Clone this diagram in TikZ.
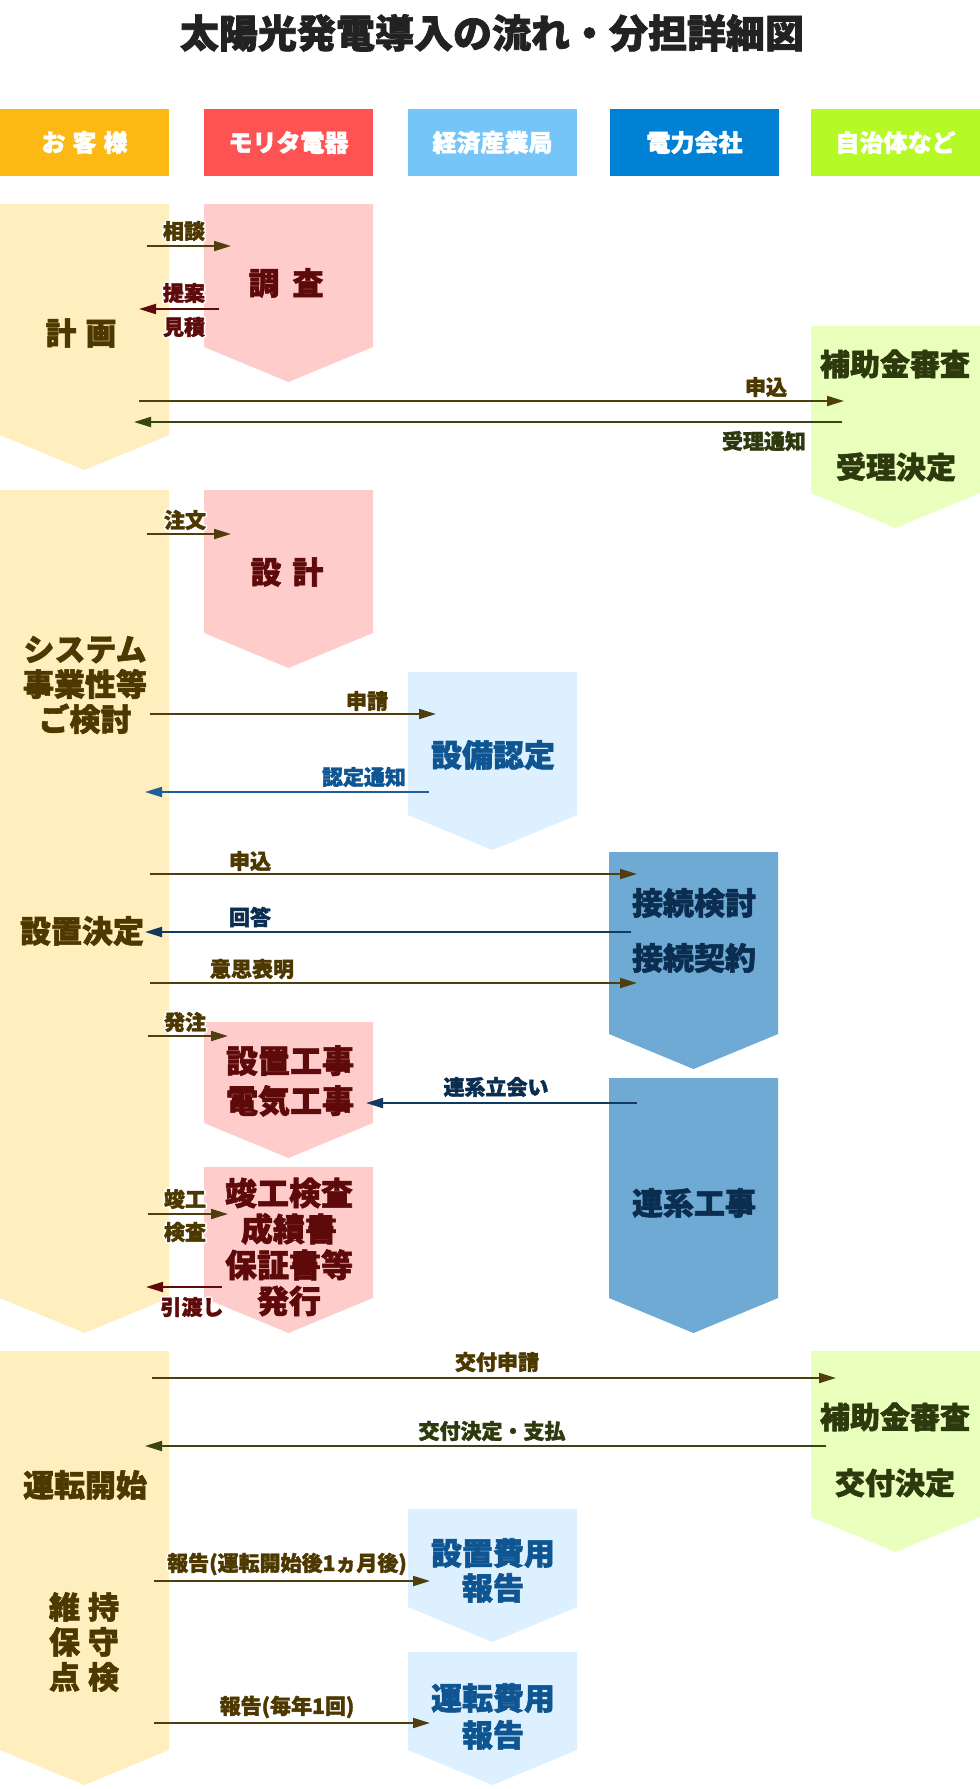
\documentclass[tikz,border=0pt]{standalone}
\usepackage{fontspec}
\setmainfont{Noto Sans CJK JP}[BoldFeatures={FakeBold=1.8}]
\usetikzlibrary{arrows.meta}
\definecolor{hCust}{HTML}{FDB913}
\definecolor{hMor}{HTML}{FF5353}
\definecolor{hMeti}{HTML}{76C5F8}
\definecolor{hPow}{HTML}{0081D3}
\definecolor{hLoc}{HTML}{B5FA26}
\definecolor{bCust}{HTML}{FFEEBE}
\definecolor{bMor}{HTML}{FFCCCC}
\definecolor{bMeti}{HTML}{DCF0FF}
\definecolor{bPow}{HTML}{6EAAD4}
\definecolor{bLoc}{HTML}{E9FFBC}
\definecolor{tCust}{HTML}{4D3800}
\definecolor{tMor}{HTML}{5E0A0A}
\definecolor{tMeti}{HTML}{0E5591}
\definecolor{tPow}{HTML}{0B2E50}
\definecolor{tLoc}{HTML}{2D3A0D}
\definecolor{aBrown}{HTML}{503F0E}
\definecolor{aRed}{HTML}{5E0A0A}
\definecolor{aBlue}{HTML}{1F5E9C}
\definecolor{aNavy}{HTML}{113A60}
\definecolor{aGreen}{HTML}{384612}
\definecolor{ttlcol}{HTML}{222222}
\newcommand\lanebox[4]{\fill[#4] (#1,#2) -- (#1+169,#2) -- (#1+169,#3) -- (#1+84.5,#3+35) -- (#1,#3) -- cycle;}
\newcommand\hcp[3]{\rlap{\kern#1\raisebox{#2}{#3}}}
\newcommand\halo[1]{\leavevmode{\color{white}%
  \hcp{1.6pt}{0pt}{#1}\hcp{-1.6pt}{0pt}{#1}\hcp{0pt}{1.6pt}{#1}\hcp{0pt}{-1.6pt}{#1}%
  \hcp{1.1pt}{1.1pt}{#1}\hcp{-1.1pt}{1.1pt}{#1}\hcp{1.1pt}{-1.1pt}{#1}\hcp{-1.1pt}{-1.1pt}{#1}}#1}
\tikzset{
  every node/.style={inner sep=0pt, outer sep=0pt},
  ttlstyle/.style={font=\bfseries\fontsize{39}{42}\selectfont, text=ttlcol},
  hdr/.style={minimum width=169pt, minimum height=67pt, text=white, font=\bfseries\fontsize{24}{26}\selectfont},
  blk/.style={font=\bfseries\fontsize{31}{35}\selectfont, align=center},
  blkw/.style={font=\bfseries\fontsize{32}{36}\selectfont, align=center},
  lbl/.style={font=\bfseries\fontsize{21}{23}\selectfont},
  arr/.style={line width=2pt, -{Triangle[length=17pt,width=10pt]}},
}
\begin{document}
\begin{tikzpicture}[x=1pt,y=-1pt]
\useasboundingbox (0,0) rectangle (980,1789);
\fill[white] (0,0) rectangle (980,1789);

% title
\node[ttlstyle] (ttl) at (492,33) {太陽光発電導入の流れ・分担詳細図};

% headers
\node[hdr, fill=hCust] (hc) at (84.5,142.5) {お\hspace{7pt}客\hspace{7pt}様};
\node[hdr, fill=hMor]  (hm) at (288.5,142.5) {モリタ電器};
\node[hdr, fill=hMeti] (hk) at (492.5,142.5) {経済産業局};
\node[hdr, fill=hPow]  (hp) at (694.5,142.5) {電力会社};
\node[hdr, fill=hLoc]  (hl) at (895.5,142.5) {自治体など};

% lane blocks
\lanebox{0}{204}{435}{bCust}
\lanebox{0}{490}{1298}{bCust}
\lanebox{0}{1351}{1750}{bCust}
\lanebox{204}{204}{347}{bMor}
\lanebox{204}{490}{633}{bMor}
\lanebox{204}{1022}{1123}{bMor}
\lanebox{204}{1167}{1298}{bMor}
\lanebox{408}{672}{815}{bMeti}
\lanebox{408}{1509}{1607}{bMeti}
\lanebox{408}{1652}{1750}{bMeti}
\lanebox{609}{852}{1034}{bPow}
\lanebox{609}{1078}{1298}{bPow}
\lanebox{811}{326}{493}{bLoc}
\lanebox{811}{1351}{1517}{bLoc}

% block texts
\node[blk, text=tCust] (keikaku) at (81,333) {計\hspace{9pt}画};
\node[blk, text=tCust] (system) at (85,685) {システム\\事業性等\\ご検討};
\node[blk, text=tCust] (kettei) at (82,931) {設置決定};
\node[blk, text=tCust] (unten) at (85,1485) {運転開始};
\node[blk, text=tCust] (iji) at (84,1642) {維\hspace{8pt}持\\保\hspace{8pt}守\\点\hspace{8pt}検};

\node[blk, text=tMor] (chosa) at (286,283) {調\hspace{13pt}査};
\node[blk, text=tMor] (sekkei) at (287,572) {設\hspace{11pt}計};
\node[blkw, text=tMor, font=\bfseries\fontsize{32}{40}\selectfont] (koji) at (290,1081) {設置工事\\電気工事};
\node[blkw, text=tMor] (shunko) at (289,1247) {竣工検査\\成績書\\保証書等\\発行};

\node[blk, text=tMeti] (nintei) at (493,755) {設備認定};
\node[blk, text=tMeti] (hiyo1) at (493,1570.5) {設置費用\\報告};
\node[blk, text=tMeti, font=\bfseries\fontsize{31}{37}\selectfont] (hiyo2) at (493,1716.5) {運転費用\\報告};

\node[blk, text=tPow] (kento) at (694,903) {接続検討};
\node[blk, text=tPow] (keiyaku) at (694,958) {接続契約};
\node[blk, text=tPow] (renkei) at (694,1203) {連系工事};

\node[blk, text=tLoc, font=\bfseries\fontsize{30}{34}\selectfont] (hojo1) at (895,364) {補助金審査};
\node[blk, text=tLoc, font=\bfseries\fontsize{30}{34}\selectfont] (juri) at (896,467) {受理決定};
\node[blk, text=tLoc, font=\bfseries\fontsize{30}{34}\selectfont] (hojo2) at (895,1417) {補助金審査};
\node[blk, text=tLoc, font=\bfseries\fontsize{30}{34}\selectfont] (kofu) at (895,1483) {交付決定};

% arrow end points
\coordinate (a1s) at (147,246);  \coordinate (a1e) at (231,246);
\coordinate (a2s) at (219,309);  \coordinate (a2e) at (139,309);
\coordinate (a3s) at (139,401);  \coordinate (a3e) at (844,401);
\coordinate (a4s) at (842,422);  \coordinate (a4e) at (134,422);
\coordinate (a5s) at (147,534);  \coordinate (a5e) at (231,534);
\coordinate (a6s) at (150,714);  \coordinate (a6e) at (436,714);
\coordinate (a7s) at (429,792);  \coordinate (a7e) at (145,792);
\coordinate (a8s) at (150,874);  \coordinate (a8e) at (637,874);
\coordinate (a9s) at (631,932);  \coordinate (a9e) at (145,932);
\coordinate (a10s) at (150,983); \coordinate (a10e) at (637,983);
\coordinate (a11s) at (148,1036); \coordinate (a11e) at (228,1036);
\coordinate (a12s) at (637,1103); \coordinate (a12e) at (366,1103);
\coordinate (a13s) at (148,1214); \coordinate (a13e) at (228,1214);
\coordinate (a14s) at (222,1287); \coordinate (a14e) at (146,1287);
\coordinate (a15s) at (152,1378); \coordinate (a15e) at (836,1378);
\coordinate (a16s) at (826,1446); \coordinate (a16e) at (145,1446);
\coordinate (a17s) at (154,1581); \coordinate (a17e) at (430,1581);
\coordinate (a18s) at (154,1723); \coordinate (a18e) at (430,1723);

% arrows
\draw[arr, aBrown] (a1s) -- (a1e);
\draw[arr, aRed] (a2s) -- (a2e);
\draw[arr, aBrown] (a3s) -- (a3e);
\draw[arr, aGreen] (a4s) -- (a4e);
\draw[arr, aBrown] (a5s) -- (a5e);
\draw[arr, aBrown] (a6s) -- (a6e);
\draw[arr, aBlue] (a7s) -- (a7e);
\draw[arr, aBrown] (a8s) -- (a8e);
\draw[arr, aNavy] (a9s) -- (a9e);
\draw[arr, aBrown] (a10s) -- (a10e);
\draw[arr, aBrown] (a11s) -- (a11e);
\draw[arr, aNavy] (a12s) -- (a12e);
\draw[arr, aBrown] (a13s) -- (a13e);
\draw[arr, aRed] (a14s) -- (a14e);
\draw[arr, aBrown] (a15s) -- (a15e);
\draw[arr, aGreen] (a16s) -- (a16e);
\draw[arr, aBrown] (a17s) -- (a17e);
\draw[arr, aBrown] (a18s) -- (a18e);

% labels
\node[lbl, text=tCust] (l1) at (184,231) {\halo{相談}};
\node[lbl, text=tMor] (l2) at (184,293) {\halo{提案}};
\node[lbl, text=tMor] (l2b) at (184,327) {\halo{見積}};
\node[lbl, text=tCust] (l3) at (766,387) {申込};
\node[lbl, text=tLoc] (l4) at (764,441) {受理通知};
\node[lbl, text=tCust] (l5) at (185,520) {\halo{注文}};
\node[lbl, text=tCust] (l6) at (367,701) {申請};
\node[lbl, text=tMeti] (l7) at (364,777) {認定通知};
\node[lbl, text=tCust] (l8) at (250,861) {申込};
\node[lbl, text=tPow] (l9) at (250,917) {回答};
\node[lbl, text=tCust] (l10) at (252,969) {意思表明};
\node[lbl, text=tCust] (l11) at (185,1022) {\halo{発注}};
\node[lbl, text=tPow] (l12) at (496,1087) {連系立会い};
\node[lbl, text=tCust] (l13) at (185,1199) {\halo{竣工}};
\node[lbl, text=tCust] (l13b) at (185,1232) {\halo{検査}};
\node[lbl, text=tMor] (l14) at (192,1307) {\halo{引渡し}};
\node[lbl, text=tCust] (l15) at (497,1362) {交付申請};
\node[lbl, text=tLoc] (l16) at (492,1431) {交付決定・支払};
\node[lbl, text=tCust] (l17) at (287,1564) {\halo{報告(運転開始後1ヵ月後)}};
\node[lbl, text=tCust] (l18) at (287,1707) {報告(毎年1回)};
\end{tikzpicture}
\end{document}
